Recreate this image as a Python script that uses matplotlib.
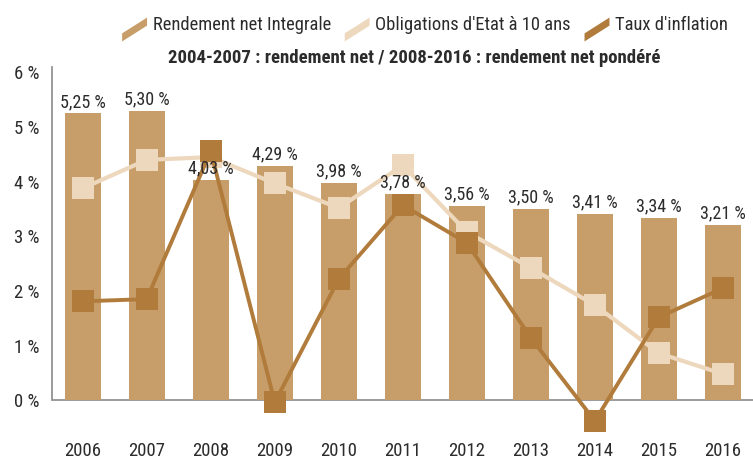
import matplotlib.pyplot as plt
from matplotlib.lines import Line2D
from matplotlib.patches import Polygon
from matplotlib.legend_handler import HandlerBase

plt.rcParams['font.family'] = ['Roboto Condensed', 'Liberation Sans', 'DejaVu Sans']

# data
years = ['2006', '2007', '2008', '2009', '2010', '2011', '2012', '2013', '2014', '2015', '2016']
rendement = [5.25, 5.30, 4.03, 4.29, 3.98, 3.78, 3.56, 3.50, 3.41, 3.34, 3.21]
obligations = [3.88, 4.40, 4.45, 3.97, 3.52, 4.30, 3.08, 2.42, 1.74, 0.86, 0.48]
inflation = [1.81, 1.85, 4.56, -0.04, 2.22, 3.57, 2.88, 1.14, -0.38, 1.52, 2.05]
yticks = [0, 1, 2, 3, 4, 5, 6]

c_bar = '#C79E69'
c_obl = '#EDD8BD'
c_inf = '#B07B3B'
c_txt = '#2b2b2b'


class DiagHandler(HandlerBase):
    # legend key drawn as a slanted parallelogram
    def create_artists(self, legend, orig_handle, xdescent, ydescent,
                       width, height, fontsize, trans):
        x0 = -xdescent
        x1 = x0 + width
        yc = -ydescent + height / 2
        pts = [(x0, yc - 12.9), (x0, yc - 7.1), (x1, yc + 4.3), (x1, yc - 1.5)]
        p = Polygon(pts, closed=True, facecolor=orig_handle.get_color(),
                    edgecolor='none', transform=trans)
        return [p]


fig = plt.figure(figsize=(7.53, 4.59), dpi=100)
ax = fig.add_axes([0.069, 0.033, 0.931, 0.821])

x = list(range(len(years)))
ax.bar(x, rendement, width=0.56, color=c_bar, zorder=1)
ax.plot(x, obligations, color=c_obl, lw=3, marker='s', markersize=16,
        markeredgewidth=0, zorder=2)
ax.plot(x, inflation, color=c_inf, lw=2.8, marker='s', markersize=16,
        markeredgewidth=0, zorder=3)

for xi, v in zip(x, rendement):
    ax.annotate(('%.2f %%' % v).replace('.', ','), (xi, v), xytext=(0, 4.5),
                textcoords='offset points', ha='center', va='baseline',
                fontsize=13, color=c_txt, zorder=5)

ax.axhline(0, color='#8a8a8a', lw=1.2, zorder=0.5)
ax.set_xlim(-0.48, 10.47)
ax.set_ylim(-0.8, 6.1)
ax.set_xticks(x)
ax.set_xticklabels(years, fontsize=13.5, color=c_txt)
ax.set_yticks(yticks)
ax.set_yticklabels(['%d %%' % t for t in yticks], fontsize=13.5, color=c_txt)
ax.tick_params(axis='x', length=0, pad=-1.5)
ax.tick_params(axis='y', length=0, pad=9)
for s in ['top', 'right', 'bottom']:
    ax.spines[s].set_visible(False)
ax.spines['left'].set_bounds(0, 6.1)
ax.spines['left'].set_color('#8a8a8a')
ax.spines['left'].set_linewidth(1.2)

handles = [Line2D([], [], color=c_bar), Line2D([], [], color=c_obl), Line2D([], [], color=c_inf)]
labels = ['Rendement net Integrale', "Obligations d'Etat à 10 ans", "Taux d'inflation"]
fig.legend(handles, labels, handler_map={Line2D: DiagHandler()},
           loc='center', bbox_to_anchor=(425 / 753, 1 - 25 / 459), ncol=3, frameon=False,
           fontsize=13.3, handlelength=1.35, handletextpad=0.3, columnspacing=0.75,
           labelcolor=c_txt, borderpad=0)
fig.text(414 / 753, 1 - 58 / 459, '2004-2007 : rendement net / 2008-2016 : rendement net pondéré',
         ha='center', va='center', fontsize=13.5, fontweight='bold', color=c_txt)

fig.savefig('out.png', dpi=100)
